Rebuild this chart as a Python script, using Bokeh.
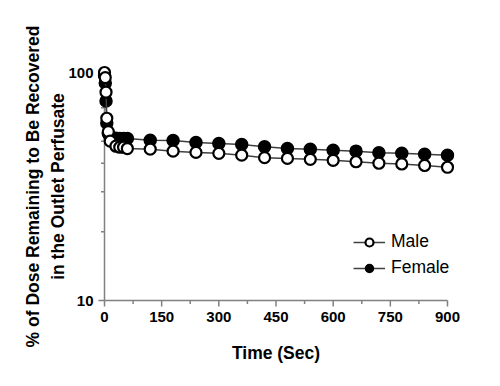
from bokeh.plotting import figure
from bokeh.models import FixedTicker, Range1d, Legend, LegendItem, PrintfTickFormatter
from bokeh.embed import file_html
from bokeh.resources import INLINE

# Data
time_sec = [0, 2, 4, 6, 10, 15, 30, 40, 50, 60, 120, 180, 240, 300, 360, 420,
            480, 540, 600, 660, 720, 780, 840, 900]
male = [100, 95, 82, 63, 55, 50, 47.5, 47, 47, 46.4, 46.1, 45.2, 44.6, 44.2,
        43.4, 42.3, 42.0, 41.6, 41.2, 40.6, 40.0, 39.7, 39.1, 38.4]
female = [97, 90, 75, 60, 54, 52, 51.5, 51.4, 51.3, 51.3, 50.5, 50.3, 49.3,
          48.8, 48.3, 47.2, 46.4, 46.1, 45.6, 45.2, 44.5, 44.2, 43.8, 43.4]

x_ticks = [0, 150, 300, 450, 600, 750, 900]
x_minor = [75, 225, 375, 525, 675, 825]
y_ticks = [10, 100]
y_minor = [20, 30, 40, 50, 60, 70, 80, 90]

# ---- geometry (pixels) ----
axis_w = 343.0     # pixels from x=0 to x=900
decade_h = 228.0   # pixels per decade
pad = 7.0          # room around the axes so markers are not cut
maj, mnr = 6.0, 3.5
xmin, xmax = x_ticks[0], x_ticks[-1]
ymin, ymax = y_ticks[0], y_ticks[-1]
dx = (xmax - xmin) / axis_w           # data units per pixel (x)
fy = lambda px: 10 ** (px / decade_h)  # multiplicative factor per pixel (log y)

left, top = 104 - int(pad), 72 - int(pad)
fw, fh = int(axis_w + 2 * pad), int(decade_h + 2 * pad)
W, H = 490, 380
p = figure(width=W, height=H, output_backend="svg", toolbar_location=None,
           y_axis_type="log",
           x_range=Range1d(xmin - pad * dx, xmax + pad * dx),
           y_range=Range1d(ymin / fy(pad), ymax * fy(pad)),
           min_border_left=left, min_border_right=W - left - fw,
           min_border_top=top, min_border_bottom=H - top - fh)
p.outline_line_color = None
p.grid.visible = False

font = "Liberation Sans"
for ax in (p.xaxis[0], p.yaxis[0]):
    ax.axis_line_color = None
    ax.major_tick_line_color = None
    ax.minor_tick_line_color = None
    ax.major_tick_out = 0
    ax.major_tick_in = 0
    ax.minor_tick_out = 0
    ax.minor_tick_in = 0
    ax.major_label_text_font = font
    ax.major_label_text_font_style = "bold"
    ax.major_label_text_font_size = "15px"
    ax.major_label_text_color = "black"
    ax.axis_label_text_font = font
    ax.axis_label_text_font_style = "bold"
    ax.axis_label_text_font_size = "17.5px"
    ax.axis_label_text_color = "black"

p.xaxis[0].ticker = FixedTicker(ticks=x_ticks, minor_ticks=[])
p.yaxis[0].ticker = FixedTicker(ticks=y_ticks, minor_ticks=[])
p.yaxis[0].formatter = PrintfTickFormatter(format="%d")
p.xaxis[0].axis_label = "Time (Sec)"
p.xaxis[0].major_label_standoff = 4
p.xaxis[0].axis_label_standoff = 18
p.yaxis[0].axis_label = "% of Dose Remaining to Be Recovered\nin the Outlet Perfusate"
p.yaxis[0].axis_label_text_line_height = 1.25
p.yaxis[0].major_label_standoff = 4
p.yaxis[0].axis_label_standoff = -3

# ---- axis lines and ticks drawn inside the padded frame ----
ac = "#808080"
aw = 1.5
# y axis line and ticks
p.segment(x0=[xmin], y0=[ymin], x1=[xmin], y1=[ymax], line_color=ac, line_width=aw)
p.segment(x0=[xmin - maj * dx] * len(y_ticks), y0=y_ticks,
          x1=[xmin] * len(y_ticks), y1=y_ticks, line_color=ac, line_width=aw)
p.segment(x0=[xmin - mnr * dx] * len(y_minor), y0=y_minor,
          x1=[xmin] * len(y_minor), y1=y_minor, line_color=ac, line_width=aw)
# x axis line and ticks
p.segment(x0=[xmin], y0=[ymin], x1=[xmax], y1=[ymin], line_color=ac, line_width=aw)
p.segment(x0=x_ticks, y0=[ymin] * len(x_ticks), x1=x_ticks,
          y1=[ymin / fy(maj)] * len(x_ticks), line_color=ac, line_width=aw)
p.segment(x0=x_minor, y0=[ymin] * len(x_minor), x1=x_minor,
          y1=[ymin / fy(mnr)] * len(x_minor), line_color=ac, line_width=aw)

# ---- data ----
line_color = "#404040"
lf = p.line(time_sec, female, line_color=line_color, line_width=1.5)
cf = p.scatter(time_sec, female, size=12, fill_color="black", line_color="black",
               line_width=1.5)
lm = p.line(time_sec, male, line_color=line_color, line_width=1.5)
cm = p.scatter(time_sec, male, size=11, fill_color="white", line_color="black",
               line_width=2.2)

legend = Legend(items=[LegendItem(label="Male", renderers=[lm, cm]),
                       LegendItem(label="Female", renderers=[lf, cf])],
                location=(353 - left, (top + fh) - 278), padding=0, margin=0,
                spacing=5, glyph_width=32, glyph_height=20, label_height=20,
                label_standoff=6, border_line_color=None,
                background_fill_alpha=0,
                label_text_font=font, label_text_font_size="17.5px",
                label_text_color="black")
p.add_layout(legend, "center")

open("out.html", "w").write(file_html(p, INLINE))
